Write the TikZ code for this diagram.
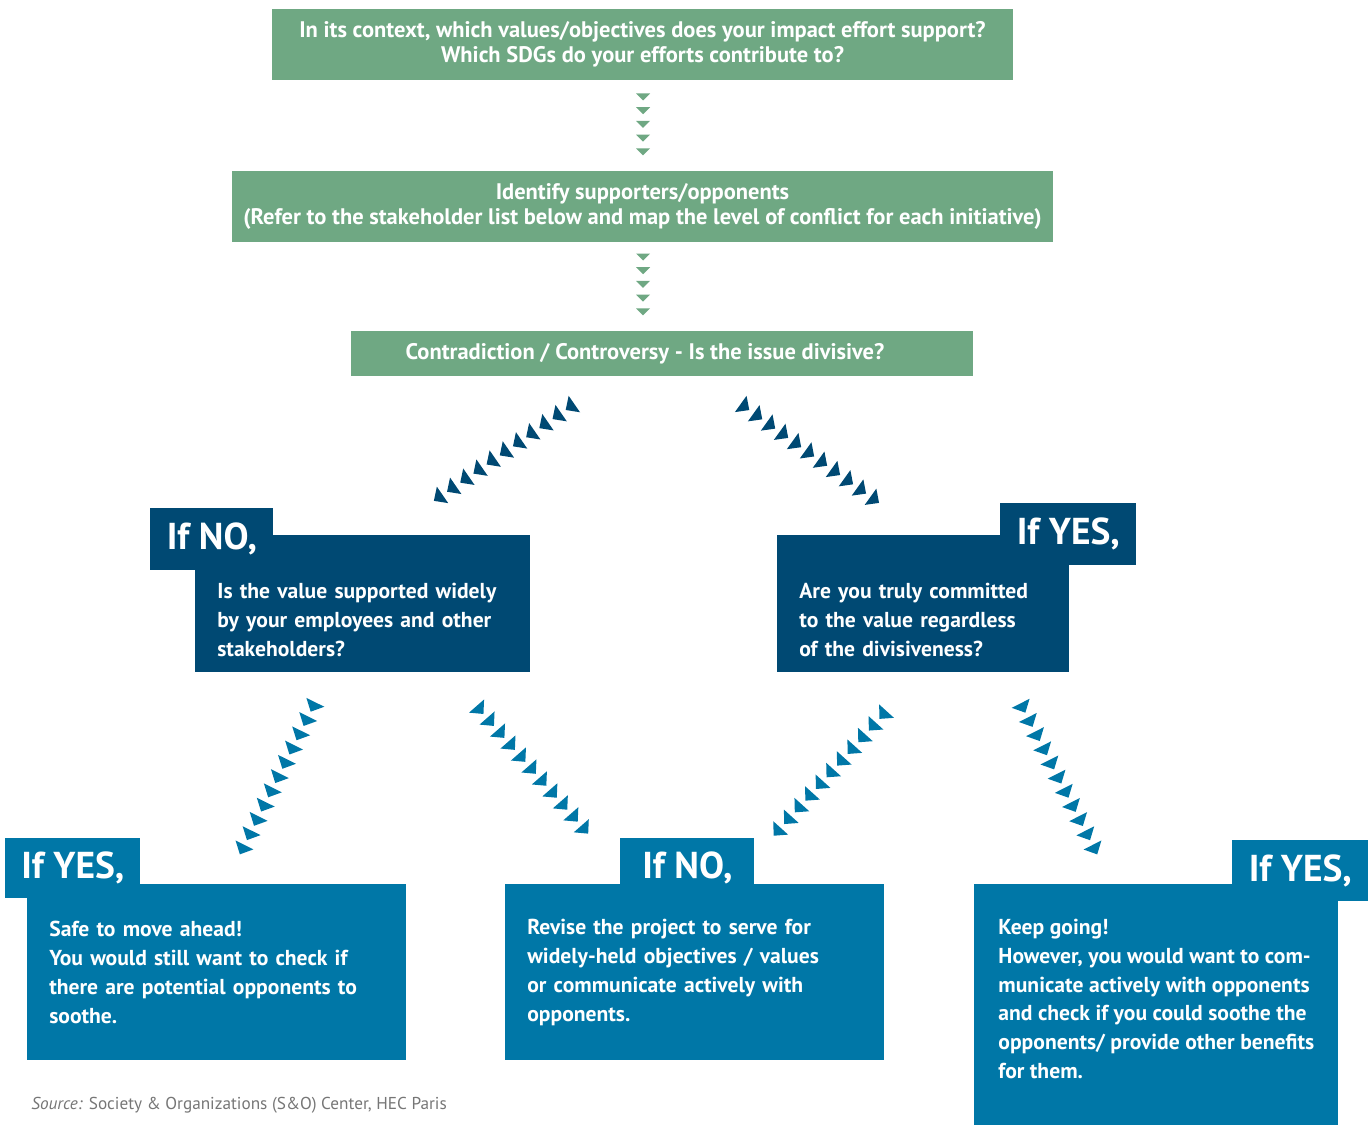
\documentclass[tikz,border=0pt]{standalone}
\usepackage{fontspec}
\setmainfont{PT Sans}
\usetikzlibrary{positioning}
\usetikzlibrary{decorations.markings}
\definecolor{sogreen}{RGB}{111,168,131}
\definecolor{sodark}{RGB}{0,73,115}
\definecolor{solight}{RGB}{0,119,167}
\definecolor{sogray}{RGB}{118,118,118}
\tikzset{green node/.style={shape=rectangle, fill=sogreen, text=white,
    align=center, inner sep=0pt,
    font=\fontsize{12.8}{14.4}\selectfont\bfseries},
  body node/.style={shape=rectangle, text=white, align=left,
    anchor=north west, inner xsep=0.44cm, inner ysep=0pt,
    font=\fontsize{12.3}{16.4}\selectfont\bfseries},
  tab node/.style={shape=rectangle, text=white, anchor=north west,
    inner sep=0pt, font=\fontsize{21.3}{24}\selectfont\bfseries},
  tri chain/.style={decoration={markings,
      mark=between positions 0 and 1 step 0.0999 with
      {\fill[#1] (0.105cm,0) -- (-0.105cm,0.2cm) -- (-0.105cm,-0.2cm) -- cycle;}},
    decorate},
  green chain/.style={decoration={markings,
      mark=between positions 0 and 1 step 0.2499 with
      {\fill[sogreen] (0.07cm,0) -- (-0.07cm,0.14cm) -- (-0.07cm,-0.14cm) -- cycle;}},
    decorate}}

\begin{document}
\begin{tikzpicture}[x=0.02cm, y=-0.02cm]
    \useasboundingbox (0,0) rectangle (1368,1125);

    \node[green node, minimum width=14.82cm, minimum height=1.42cm] (1) at (642.5,44.5)
        {In its context, which values/objectives does your impact effort support?\\
         Which SDGs do your efforts contribute to?};
    \node[green node, minimum width=16.42cm, minimum height=1.42cm] (2) [below = 1.8cm of 1]
        {Identify supporters/opponents\\
         (Refer to the stakeholder list below and map the level of conflict for each initiative)};
    \node[green node, minimum width=12.44cm, minimum height=0.9cm] (3) [below = 1.78cm of 2, xshift=0.39cm]
        {Contradiction / Controversy - Is the issue divisive?\hspace*{0.68cm}};

%   second level
    \node[body node, fill=sodark, text width=5.82cm, minimum height=2.74cm] (4) at (195,535)
        {\rule{0pt}{0.94cm}Is the value supported widely\\by your employees and other\\stakeholders?};
    \node[tab node, fill=sodark, minimum width=2.46cm, minimum height=1.24cm] (4a)
        at ([shift={(-45,-27)}]4.north west) {If NO,};

    \node[body node, fill=sodark, text width=4.96cm, minimum height=2.74cm] (5) at (777,535)
        {\rule{0pt}{0.94cm}Are you truly committed\\to the value regardless\\of the divisiveness?};
    \node[tab node, fill=sodark, minimum width=2.72cm, minimum height=1.24cm] (5a)
        at ([shift={(223,-32)}]5.north west) {If YES,};

%   third level
    \node[body node, fill=solight, text width=6.7cm, minimum height=3.52cm] (6) at (27,884)
        {Safe to move ahead!\\You would still want to check if\\there are potential opponents to\\soothe.};
    \node[tab node, fill=solight, minimum width=2.7cm, minimum height=1.2cm] (6a)
        at ([shift={(-22,-46)}]6.north west) {If YES,};

    \node[body node, fill=solight, text width=6.7cm, minimum height=3.52cm] (7) at (505,884)
        {Revise the project to serve for\\widely-held objectives / values\\or communicate actively with\\opponents.};
    \node[tab node, fill=solight, minimum width=2.68cm, minimum height=1.2cm] (7a)
        at ([shift={(115,-46)}]7.north west) {If NO,};

    \node[body node, fill=solight, minimum width=7.28cm, minimum height=4.82cm] (8) at (974,884)
        {Keep going!\\However, you would want to com-\\municate actively with opponents\\and check if you could soothe the\\opponents/ provide other benefits\\for them.\rule[-0.24cm]{0pt}{0pt}};
    \node[tab node, fill=solight, minimum width=2.72cm, minimum height=1.22cm] (8a)
        at ([shift={(258,-44)}]8.north west) {If YES,};

    \node[anchor=west, inner sep=0pt, text=sogray, font=\fontsize{9.8}{12}\selectfont] (src) at (31,1105)
        {\textit{Source:} Society \& Organizations (S\&O) Center, HEC Paris};

%   chains of triangles
    \coordinate (c1a) at (643,97);   \coordinate (c1b) at (643,152);
    \coordinate (c2a) at (643,257);  \coordinate (c2b) at (643,312);
    \coordinate (c3a) at (570,407);  \coordinate (c3b) at (438,498);
    \coordinate (c4a) at (745,407);  \coordinate (c4b) at (875,500);
    \coordinate (c5a) at (313,707);  \coordinate (c5b) at (242,850);
    \coordinate (c6a) at (480,710);  \coordinate (c6b) at (585,830);
    \coordinate (c7a) at (883,715);  \coordinate (c7b) at (777,832);
    \coordinate (c8a) at (1023,708); \coordinate (c8b) at (1095,850);

    \path
    (c1a) edge[green chain] (c1b)
    (c2a) edge[green chain] (c2b)
    (c3a) edge[tri chain=sodark] (c3b)
    (c4a) edge[tri chain=sodark] (c4b)
    (c5a) edge[tri chain=solight] (c5b)
    (c6a) edge[tri chain=solight] (c6b)
    (c7a) edge[tri chain=solight] (c7b)
    (c8a) edge[tri chain=solight] (c8b)
    ;
\end{tikzpicture}
\end{document}
